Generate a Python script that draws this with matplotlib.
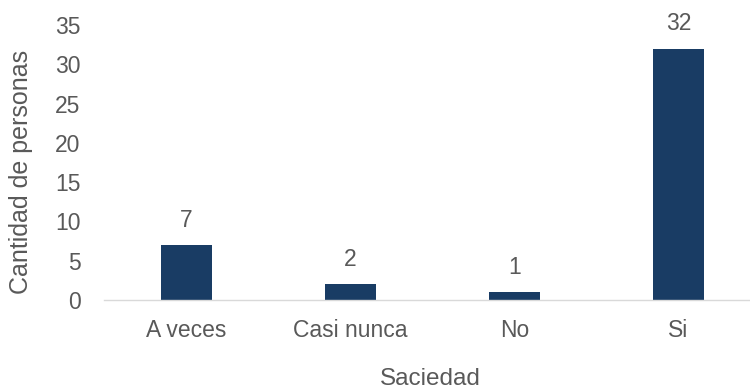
import matplotlib.pyplot as plt

categories = ['A veces', 'Casi nunca', 'No', 'Si']
counts = [7, 2, 1, 32]
yticks = [0, 5, 10, 15, 20, 25, 30, 35]

plt.rcParams['font.family'] = ['Liberation Sans', 'DejaVu Sans']
txt = '#595959'
fs = 16.5

fig = plt.figure(figsize=(7.5, 3.9), dpi=100)
ax = fig.add_axes([104 / 750, 1 - 300 / 390, 1 - 104 / 750, 275 / 390])

x = range(len(categories))
ax.bar(x, counts, width=0.31, color='#193c64', zorder=2)

for xi, v in zip(x, counts):
    ax.text(xi, v + 1.7, str(v), ha='center', va='bottom', fontsize=fs, color=txt)

ax.set_xlim(-0.5, 3.436)
ax.set_ylim(0, 35)
ax.set_yticks(yticks)
ax.set_xticks(list(x))
ax.set_xticklabels(categories)

for side in ['top', 'right', 'left']:
    ax.spines[side].set_visible(False)
ax.spines['bottom'].set_color('#d9d9d9')
ax.spines['bottom'].set_linewidth(1.0)

ax.tick_params(axis='both', length=0, labelsize=fs, colors=txt)
ax.tick_params(axis='y', pad=17)
ax.tick_params(axis='x', pad=14)

# axis titles placed directly in figure coordinates
fig.text(21 / 750, 1 - 172 / 390, 'Cantidad de personas', rotation=90,
         ha='center', va='center', fontsize=18, color=txt)
fig.text(430 / 750, 1 - 385 / 390, 'Saciedad', ha='center', va='baseline',
         fontsize=17.5, color=txt)

fig.savefig('out.png', dpi=100)
